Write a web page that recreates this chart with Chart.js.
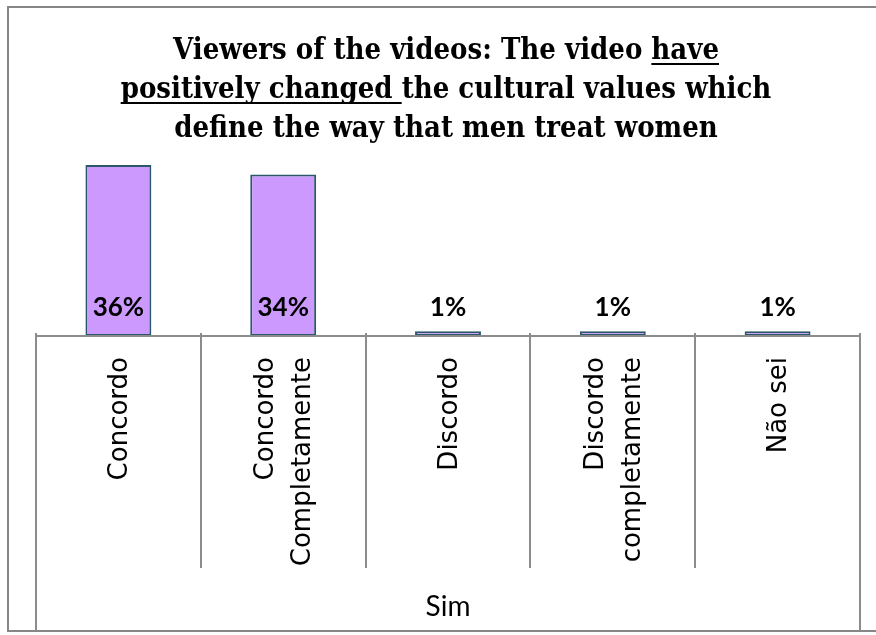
<!DOCTYPE html>
<html lang="pt">
<head>
    <meta charset="UTF-8">
    <title>Viewers of the videos</title>
    <script src="https://cdn.jsdelivr.net/npm/chart.js"></script>
    <style>
        body {
            margin: 0;
            background: #ffffff;
            overflow: hidden;
        }
        #grafico {
            display: block;
        }
    </style>
</head>
<body>
    <canvas id="grafico" width="876" height="635"></canvas>

    <script>
        // Dati del grafico
        const categorie = [
            ['Concordo'],
            ['Concordo', 'Completamente'],
            ['Discordo'],
            ['Discordo', 'completamente'],
            ['Não sei']
        ];
        const valori = [36, 34, 1, 1, 1];
        const gruppo = 'Sim';

        // Titolo: segmenti per riga, con sottolineatura dove serve
        const titolo = [
            [{ t: 'Viewers of the videos: The video ', u: false }, { t: 'have', u: true }],
            [{ t: 'positively changed ', u: true }, { t: 'the cultural values which', u: false }],
            [{ t: 'define the way that men treat women', u: false }]
        ];

        const grigio = '#8c8c8c';

        // Cornice, titolo, asse e separatori delle categorie
        const cornice = {
            id: 'cornice',
            beforeDraw(chart) {
                const ctx = chart.ctx;
                ctx.save();
                ctx.strokeStyle = '#868686';
                ctx.lineWidth = 2;
                ctx.strokeRect(8, 7, 1000, 624);

                // titolo
                ctx.fillStyle = '#000';
                ctx.font = 'bold 29px "DejaVu Serif Condensed", "Liberation Serif", serif';
                ctx.textBaseline = 'alphabetic';
                ctx.textAlign = 'left';
                const centro = 446;
                titolo.forEach((riga, i) => {
                    const y = 59 + i * 39;
                    const larghezza = riga.reduce((s, seg) => s + ctx.measureText(seg.t).width, 0);
                    let x = centro - larghezza / 2;
                    riga.forEach(seg => {
                        const w = ctx.measureText(seg.t).width;
                        ctx.fillText(seg.t, x, y);
                        if (seg.u) {
                            ctx.fillRect(x, y + 4, w, 2);
                        }
                        x += w;
                    });
                });
                ctx.restore();
            },
            afterDraw(chart) {
                const ctx = chart.ctx;
                const area = chart.chartArea;
                const xs = chart.scales.x;
                const n = categorie.length;
                const passo = (area.right - area.left) / n;
                ctx.save();
                ctx.strokeStyle = grigio;
                ctx.lineWidth = 2;

                // asse orizzontale
                ctx.beginPath();
                ctx.moveTo(area.left, area.bottom);
                ctx.lineTo(area.right, area.bottom);
                ctx.stroke();

                // separatori
                for (let i = 0; i <= n; i++) {
                    const x = Math.round(area.left + i * passo);
                    const esterno = (i === 0 || i === n);
                    ctx.beginPath();
                    ctx.moveTo(x, area.bottom - 3);
                    ctx.lineTo(x, esterno ? 631 : 568);
                    ctx.stroke();
                }

                // etichette delle categorie, ruotate
                ctx.fillStyle = '#000';
                ctx.font = '26px "DejaVu Sans", Verdana, sans-serif';
                ctx.textAlign = 'right';
                ctx.textBaseline = 'middle';
                const interlinea = 37;
                categorie.forEach((righe, i) => {
                    const px = xs.getPixelForValue(i);
                    ctx.save();
                    ctx.translate(px, area.bottom + 21);
                    ctx.rotate(-Math.PI / 2);
                    righe.forEach((r, k) => {
                        const off = (k - (righe.length - 1) / 2) * interlinea;
                        ctx.fillText(r, 0, off + 2);
                    });
                    ctx.restore();
                });

                // etichetta del gruppo
                ctx.font = '28px Lato, "Open Sans", sans-serif';
                ctx.textAlign = 'center';
                ctx.textBaseline = 'middle';
                ctx.fillText(gruppo, (area.left + area.right) / 2, 607);
                ctx.restore();
            },
            afterDatasetsDraw(chart) {
                // percentuali alla base delle barre
                const ctx = chart.ctx;
                const meta = chart.getDatasetMeta(0);
                ctx.save();
                ctx.fillStyle = '#000';
                ctx.font = 'bold 26px Lato, "Open Sans", sans-serif';
                ctx.textAlign = 'center';
                ctx.textBaseline = 'middle';
                meta.data.forEach((bar, i) => {
                    ctx.fillText(valori[i] + '%', bar.x, bar.base - 28);
                });
                ctx.restore();
            }
        };

        new Chart(document.getElementById('grafico'), {
            type: 'bar',
            data: {
                labels: categorie,
                datasets: [{
                    data: valori,
                    backgroundColor: '#cc99ff',
                    borderColor: '#2a5868',
                    borderWidth: 2,
                    borderSkipped: false,
                    barPercentage: 0.4,
                    categoryPercentage: 1
                }]
            },
            options: {
                responsive: false,
                devicePixelRatio: 1,
                animation: false,
                layout: {
                    padding: { left: 36, right: 16, top: 146, bottom: 0 }
                },
                plugins: {
                    legend: { display: false },
                    title: { display: false },
                    tooltip: { enabled: false }
                },
                scales: {
                    x: {
                        grid: { display: false },
                        border: { display: false },
                        ticks: { display: false },
                        afterFit(scale) {
                            scale.height = 299;
                        }
                    },
                    y: {
                        display: false,
                        min: 0,
                        max: 40
                    }
                }
            },
            plugins: [cornice]
        });
    </script>
</body>
</html>
